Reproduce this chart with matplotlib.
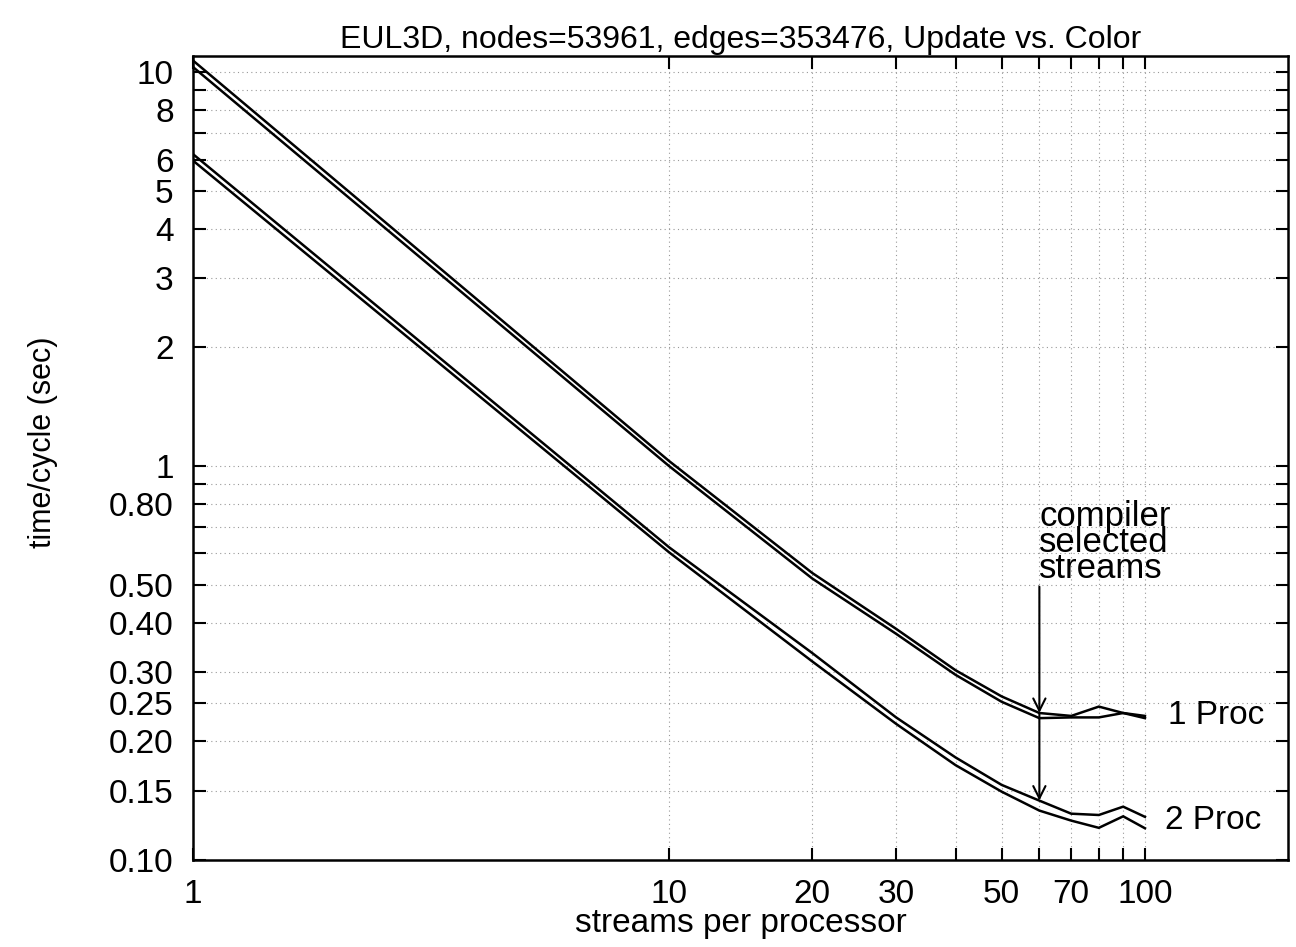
import matplotlib
matplotlib.use("Agg")
import matplotlib.pyplot as plt
from matplotlib.ticker import FixedLocator, FixedFormatter, NullLocator

plt.rcParams['font.family'] = ['Liberation Sans', 'DejaVu Sans']

streams = [1, 10, 20, 30, 40, 50, 60, 70, 80, 90, 100]
proc1_a = [10.7, 1.03, 0.535, 0.386, 0.303, 0.260, 0.236, 0.232, 0.245, 0.236, 0.232]
proc1_b = [10.3, 1.00, 0.518, 0.375, 0.295, 0.252, 0.229, 0.230, 0.230, 0.236, 0.229]
proc2_a = [6.19, 0.622, 0.335, 0.230, 0.182, 0.155, 0.1414, 0.131, 0.130, 0.1365, 0.1286]
proc2_b = [5.96, 0.604, 0.319, 0.2215, 0.174, 0.149, 0.1334, 0.1258, 0.1206, 0.129, 0.1203]

xticks = [1, 10, 20, 30, 40, 50, 60, 70, 80, 90, 100]
xticklabels = ['1', '10', '20', '30', '', '50', '', '70', '', '', '100']
yticks = [0.10, 0.15, 0.20, 0.25, 0.30, 0.40, 0.50, 0.60, 0.70, 0.80, 0.90, 1, 2, 3, 4, 5, 6, 7, 8, 9, 10]
yticklabels = ['0.10', '0.15', '0.20', '0.25', '0.30', '0.40', '0.50', '', '', '0.80', '', '1',
               '2', '3', '4', '5', '6', '', '8', '', '10']

fig = plt.figure(figsize=(12.96, 9.47), dpi=100)
ax = fig.add_axes([0.149, 0.092, 0.845, 0.849])
ax.set_xscale('log')
ax.set_yscale('log')
ax.set_xlim(1, 200)
ax.set_ylim(0.1, 11.0)

lw = 1.8
for ys in (proc1_a, proc1_b, proc2_a, proc2_b):
    ax.plot(streams, ys, color='black', lw=lw, solid_joinstyle='miter')

ax.xaxis.set_major_locator(FixedLocator(xticks))
ax.xaxis.set_major_formatter(FixedFormatter(xticklabels))
ax.xaxis.set_minor_locator(NullLocator())
ax.yaxis.set_major_locator(FixedLocator(yticks))
ax.yaxis.set_major_formatter(FixedFormatter(yticklabels))
ax.yaxis.set_minor_locator(NullLocator())

ax.tick_params(axis='both', which='major', direction='in', length=9, width=1.5,
               top=True, right=True, labelsize=24)
ax.tick_params(axis='x', pad=14)
ax.tick_params(axis='y', pad=14)
for s in ax.spines.values():
    s.set_linewidth(1.8)

ax.grid(True, which='major', color='0.6', linestyle=(0, (1, 3)), linewidth=0.8)

ax.set_title('EUL3D, nodes=53961, edges=353476, Update vs. Color', fontsize=23, pad=6)
ax.set_xlabel('streams per processor', fontsize=24, labelpad=-2)
ax.set_ylabel('time/cycle (sec)', fontsize=22)
ax.yaxis.set_label_coords(-0.123, 0.52)

# annotation: compiler selected streams
ax.text(60, 0.50, 'compiler\nselected\nstreams', fontsize=25, ha='left', va='bottom',
        linespacing=0.72)
ax.annotate('', xy=(60, 0.236), xytext=(60, 0.494),
            arrowprops=dict(arrowstyle='->', color='black', lw=1.5, mutation_scale=22,
                            shrinkA=0, shrinkB=0))
ax.annotate('', xy=(60, 0.1414), xytext=(60, 0.236),
            arrowprops=dict(arrowstyle='->', color='black', lw=1.5, mutation_scale=22,
                            shrinkA=0, shrinkB=0))

ax.text(112, 0.233, '1 Proc', fontsize=24, ha='left', va='center')
ax.text(110, 0.126, '2 Proc', fontsize=24, ha='left', va='center')

fig.savefig('out.png', dpi=100)
